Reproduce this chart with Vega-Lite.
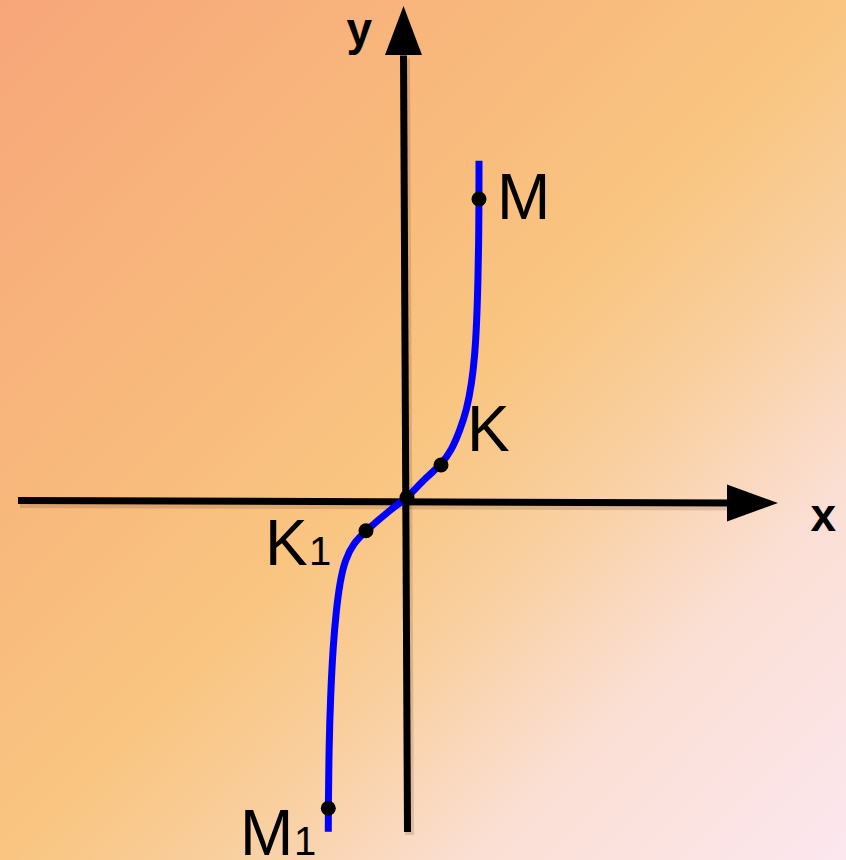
{
  "$schema": "https://vega.github.io/schema/vega-lite/v6.json",
  "width": 846,
  "height": 860,
  "autosize": {"type": "none"},
  "padding": 0,
  "background": "#F9C27F",
  "config": {
    "view": {
      "stroke": null,
      "fill": {
        "gradient": "linear",
        "x1": 0, "y1": 0, "x2": 1, "y2": 1,
        "stops": [
          {"offset": 0, "color": "#F7A67A"},
          {"offset": 0.3, "color": "#F8B87C"},
          {"offset": 0.5, "color": "#F9C580"},
          {"offset": 0.63, "color": "#F9CF9E"},
          {"offset": 0.78, "color": "#FBDFD4"},
          {"offset": 1, "color": "#FCE7EF"}
        ]
      }
    }
  },
  "datasets": {
    "curve": [
      {"seq": 1, "x": 0.72, "y": 3.368},
      {"seq": 2, "x": 0.72, "y": 2.985},
      {"seq": 3, "x": 0.717, "y": 2.575},
      {"seq": 4, "x": 0.71, "y": 2.175},
      {"seq": 5, "x": 0.697, "y": 1.742},
      {"seq": 6, "x": 0.677, "y": 1.408},
      {"seq": 7, "x": 0.647, "y": 1.142},
      {"seq": 8, "x": 0.597, "y": 0.875},
      {"seq": 9, "x": 0.53, "y": 0.675},
      {"seq": 10, "x": 0.447, "y": 0.475},
      {"seq": 11, "x": 0.34, "y": 0.325},
      {"seq": 12, "x": 0.197, "y": 0.208},
      {"seq": 13, "x": 0.03, "y": 0.03},
      {"seq": 14, "x": 0.0, "y": 0.0},
      {"seq": 15, "x": -0.17, "y": -0.125},
      {"seq": 16, "x": -0.41, "y": -0.332},
      {"seq": 17, "x": -0.537, "y": -0.458},
      {"seq": 18, "x": -0.62, "y": -0.625},
      {"seq": 19, "x": -0.67, "y": -0.84},
      {"seq": 20, "x": -0.708, "y": -1.13},
      {"seq": 21, "x": -0.74, "y": -1.5},
      {"seq": 22, "x": -0.765, "y": -1.992},
      {"seq": 23, "x": -0.78, "y": -2.492},
      {"seq": 24, "x": -0.787, "y": -3.108},
      {"seq": 25, "x": -0.787, "y": -3.342}
    ],
    "axes": [
      {"axis": "x", "seq": 0, "x": -3.89, "y": -0.03},
      {"axis": "x", "seq": 1, "x": 3.28, "y": -0.055},
      {"axis": "y", "seq": 0, "x": 0.005, "y": -3.345},
      {"axis": "y", "seq": 1, "x": -0.035, "y": 4.42}
    ],
    "arrows": [
      {"axis": "x", "x": 3.455, "y": -0.055},
      {"axis": "y", "x": -0.035, "y": 4.67}
    ],
    "points": [
      {"name": "M", "x": 0.72, "y": 2.985},
      {"name": "K", "x": 0.34, "y": 0.325},
      {"name": "O", "x": 0.0, "y": 0.0},
      {"name": "K1", "x": -0.41, "y": -0.332},
      {"name": "M1", "x": -0.787, "y": -3.108}
    ],
    "labels": [
      {"text": "M", "x": 0.9, "y": 2.785},
      {"text": "K", "x": 0.6, "y": 0.465},
      {"text": "K", "x": -1.42, "y": -0.675},
      {"text": "M", "x": -1.67, "y": -3.575}
    ],
    "subs": [
      {"text": "1", "x": -0.98, "y": -0.675},
      {"text": "1", "x": -1.13, "y": -3.575}
    ],
    "axisLabels": [
      {"text": "y", "x": -0.605, "y": 4.525},
      {"text": "x", "x": 4.035, "y": -0.335}
    ]
  },
  "encoding": {
    "x": {"field": "x", "type": "quantitative", "scale": {"domain": [-4.07, 4.39], "nice": false, "zero": false}, "axis": null},
    "y": {"field": "y", "type": "quantitative", "scale": {"domain": [-3.625, 4.975], "nice": false, "zero": false}, "axis": null}
  },
  "layer": [
    {
      "data": {"name": "axes"},
      "mark": {"type": "line", "color": "#5a3a20", "opacity": 0.18, "strokeWidth": 9, "strokeCap": "butt", "xOffset": 2, "yOffset": 3},
      "encoding": {
        "detail": {"field": "axis"},
        "order": {"field": "seq", "type": "quantitative"}
      }
    },
    {
      "data": {"name": "axes"},
      "mark": {"type": "line", "color": "#000000", "strokeWidth": 7, "strokeCap": "butt"},
      "encoding": {
        "detail": {"field": "axis"},
        "order": {"field": "seq", "type": "quantitative"}
      }
    },
    {
      "data": {"name": "arrows"},
      "mark": {"type": "point", "filled": true, "color": "#000000", "opacity": 1, "size": 2601, "strokeWidth": 0},
      "encoding": {
        "shape": {
          "field": "axis",
          "type": "nominal",
          "scale": {"domain": ["x", "y"], "range": ["M1,0L-1,0.725L-1,-0.725Z", "M0,-0.961L0.725,0.961L-0.725,0.961Z"]},
          "legend": null
        }
      }
    },
    {
      "data": {"name": "curve"},
      "mark": {"type": "line", "color": "#0000FF", "strokeWidth": 7, "strokeCap": "butt", "interpolate": "basis"},
      "encoding": {
        "order": {"field": "seq", "type": "quantitative"}
      }
    },
    {
      "data": {"name": "points"},
      "mark": {"type": "circle", "color": "#000000", "opacity": 1, "size": 225}
    },
    {
      "data": {"name": "labels"},
      "mark": {"type": "text", "font": "Liberation Sans", "fontSize": 64, "align": "left", "baseline": "alphabetic", "color": "#000000"},
      "encoding": {"text": {"field": "text"}}
    },
    {
      "data": {"name": "subs"},
      "mark": {"type": "text", "font": "Liberation Sans", "fontSize": 40, "align": "left", "baseline": "alphabetic", "color": "#000000"},
      "encoding": {"text": {"field": "text"}}
    },
    {
      "data": {"name": "axisLabels"},
      "mark": {"type": "text", "font": "Liberation Sans", "fontWeight": "bold", "fontSize": 46, "align": "left", "baseline": "alphabetic", "color": "#000000"},
      "encoding": {"text": {"field": "text"}}
    }
  ]
}
